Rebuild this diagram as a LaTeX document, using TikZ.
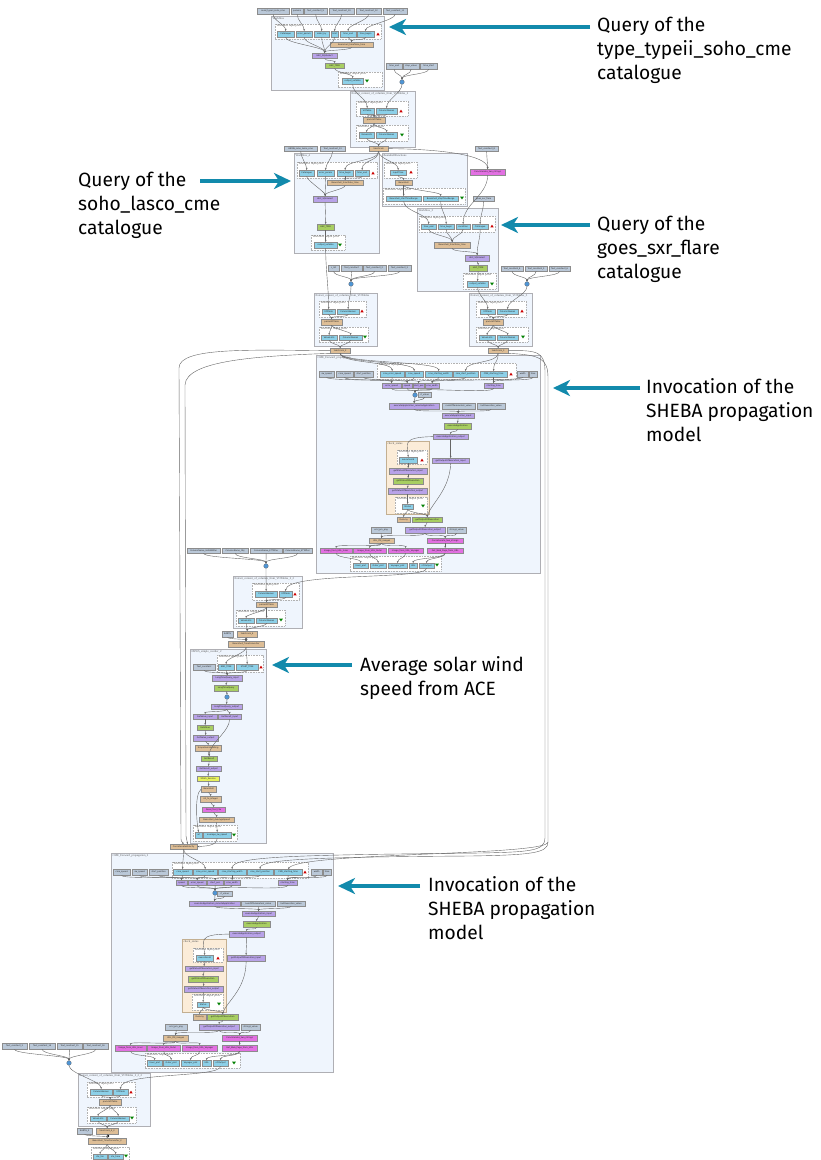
\documentclass[tikz,border=0pt]{standalone}
\usepackage{fontspec}
\usetikzlibrary{arrows.meta}
\newfontfamily\nf{DejaVu Sans}
\newfontfamily\lf{Liberation Serif}
\newfontfamily\af{Fira Sans}
\definecolor{wfblue}{RGB}{239,245,253}
\definecolor{wfline}{RGB}{175,175,180}
\definecolor{cream}{RGB}{251,236,216}
\definecolor{creamline}{RGB}{195,175,145}
\definecolor{portblue}{RGB}{140,208,232}
\definecolor{constgray}{RGB}{186,200,216}
\definecolor{tanc}{RGB}{222,190,150}
\definecolor{purp}{RGB}{184,162,232}
\definecolor{grn}{RGB}{168,206,98}
\definecolor{mag}{RGB}{226,112,226}
\definecolor{yel}{RGB}{232,242,92}
\definecolor{dotblue}{RGB}{78,150,215}
\definecolor{teal1}{RGB}{18,138,172}
\tikzset{
  wf/.style={draw=wfline, fill=wfblue, line width=0.9pt},
  cs/.style={draw=creamline, fill=cream, line width=0.9pt},
  pa/.style={draw=black!30, dash pattern=on 0.8pt off 0.8pt, fill=white, line width=0.35pt},
  nbase/.style={draw=black!45, line width=0.3pt, inner sep=0pt, font=\nf\fontsize{2.1}{2.3}\selectfont, text=black!85},
  inp/.style={nbase, fill=portblue},
  cst/.style={nbase, fill=constgray},
  bsh/.style={nbase, fill=tanc},
  xp/.style={nbase, fill=purp},
  op/.style={nbase, fill=grn},
  mg/.style={nbase, fill=mag},
  yl/.style={nbase, fill=yel},
  mdot/.style={circle, fill=dotblue, draw=black!60, line width=0.3pt, minimum size=4.6pt, inner sep=0pt},
  bdot/.style={circle, fill=black, minimum size=2.6pt, inner sep=0pt},
  edg/.style={draw=black!60, line width=0.4pt, -{Stealth[length=2pt,width=1.7pt]}},
  lbl/.style={font=\lf\fontsize{2.9}{3.1}\selectfont, text=black!65, anchor=north west, inner sep=0.4pt},
  ann/.style={font=\af\fontsize{19.2}{24}\selectfont, text=black, anchor=base west, inner sep=0pt},
  annarr/.style={draw=teal1, line width=3.2pt, -{Stealth[length=17pt,width=16pt,inset=5pt]}},
}
\newcommand\nd[7]{\node[#2, anchor=north west, minimum width={(#5-#3)*1pt}, minimum height={(#6-#4)*1pt}] (#1) at (#3,#4) {#7};}
\newcommand\bx[6]{\node[#2, inner sep=0pt, anchor=north west, minimum width={(#5-#3)*1pt}, minimum height={(#6-#4)*1pt}] (#1) at (#3,#4) {};}
\newcommand\lab[3]{\node[lbl] at (#1,#2) {#3};}
\newcommand\pa[5]{\draw[pa] (#1,#2) rectangle (#3,#4); \node[lbl] at (#1+1,#2+0.3) {#5};}
\newcommand\tup[2]{\fill[red!80!black] (#1-1.7,#2+1.4) -- (#1+1.7,#2+1.4) -- (#1,#2-1.4) -- cycle;}
\newcommand\tdn[2]{\fill[green!50!black] (#1-1.9,#2-1.3) -- (#1+1.9,#2-1.3) -- (#1,#2+1.4) -- cycle;}
\newcommand\ed[3][6]{\draw[edg] (#2.south) .. controls +(0,#1) and +(0,-#1) .. (#3.north);}
\newcommand\wip{Workflow input ports}
\newcommand\wop{Workflow output ports}
\begin{document}
\begin{tikzpicture}[x=1pt,y=-1pt]
\useasboundingbox (0,0) rectangle (820,1160);
\fill[white] (0,0) rectangle (820,1160);
% ================= containers
\bx{W1}{wf}{271}{16}{384}{90}
\bx{E1}{wf}{350}{91}{415}{147}
\bx{W4}{wf}{294}{153}{379}{253}
\bx{BF}{wf}{382}{153}{467}{206}
\bx{W3}{wf}{417}{208}{498}{291}
\bx{E2}{wf}{314}{293}{377}{346}
\bx{E3}{wf}{469}{293}{532}{346}
\bx{C1}{wf}{316}{355}{540}{573}
\bx{K1}{cs}{386}{441}{429}{514}
\bx{E4}{wf}{233}{576}{302}{628}
\bx{H1}{wf}{190}{649}{266}{843}
\bx{C2}{wf}{111}{853}{333}{1072}
\bx{K2}{cs}{182}{939}{226}{1012}
\bx{E5}{wf}{78}{1073}{150}{1126}
\lab{272}{16.5}{Workflow}
\lab{351}{91.5}{Extract\_content\_of\_columns\_from\_VOTables\_2}
\lab{295}{153.5}{Workflow\_4}
\lab{383}{153.5}{BeanshellFunctions}
\lab{418}{208.5}{Workflow\_3}
\lab{315}{293.5}{Extract\_content\_of\_columns\_from\_VOTables}
\lab{470}{293.5}{Extract\_content\_of\_columns\_from\_VOTables\_3}
\lab{317}{355.5}{CME\_Forward\_propagation}
\lab{387}{441.5}{check\_status}
\lab{234}{576.5}{Extract\_content\_of\_columns\_from\_VOTables\_2\_2}
\lab{191}{649.5}{HSWS\_simple\_reorder\_2}
\lab{112}{853.5}{CME\_Forward\_propagation\_2}
\lab{183}{939.5}{check\_status}
\lab{79}{1073.5}{Extract\_content\_of\_columns\_from\_VOTables\_2\_2\_2}
% port areas
\pa{275}{24}{381}{39}{\wip} \pa{338}{72}{382}{87}{\wop}
\pa{356}{101}{408}{116}{\wip} \pa{356}{125}{408}{141}{\wop}
\pa{297}{162}{377}{178}{\wip} \pa{311}{235}{345}{250}{\wop}
\pa{384}{162}{417}{178}{\wip} \pa{383}{188}{465}{204}{\wop}
\pa{419}{216}{495}{232}{\wip} \pa{463}{273}{496}{289}{\wop}
\pa{319}{301}{366}{317}{\wip} \pa{319}{327}{368}{342}{\wop}
\pa{476}{301}{526}{317}{\wip} \pa{476}{327}{528}{342}{\wop}
\pa{377}{363}{516}{379}{\wip}
\pa{397}{450}{427}{464}{\wip} \pa{395}{497}{427}{513}{\wop}
\pa{350}{556}{441}{571}{\wop}
\pa{252}{583}{299}{600}{\wip} \pa{236}{610}{285}{626}{\wop}
\pa{217}{655}{263}{672}{\wip} \pa{193}{825}{237}{841}{\wop}
\pa{172}{862}{308}{878}{\wip}
\pa{193}{948}{223}{962}{\wip} \pa{192}{994}{223}{1010}{\wop}
\pa{145}{1053}{240}{1068}{\wop}
\pa{87}{1082}{135}{1097}{\wip} \pa{87}{1107}{136}{1123}{\wop}
\pa{91}{1147}{129}{1160}{\wop}
% ================= region 1
\nd{c1}{cst}{257}{8}{289}{14}{send\_typeii\_soho\_cme}
\nd{c2}{cst}{291}{8}{303}{14}{params}
\nd{c3}{cst}{304}{8}{327}{14}{Text\_constant\_9}
\nd{c4}{cst}{329}{8}{354}{14}{Text\_constant\_10}
\nd{c5}{cst}{356}{8}{381}{14}{Text\_constant\_12}
\nd{c6}{cst}{383}{8}{407}{14}{Text\_constant\_11}
\nd{w1a}{inp}{277}{31}{294}{37}{Cataloque}
\nd{w1b}{inp}{296}{31}{312}{37}{error\_param}
\nd{w1c}{inp}{314}{31}{329}{37}{order\_by}
\nd{w1d}{inp}{331}{31}{338}{37}{limit}
\nd{w1e}{inp}{340}{31}{356}{37}{time\_end}
\nd{w1f}{inp}{357}{31}{374}{37}{time\_begin}
\tup{378}{34}
\nd{w1t}{bsh}{330}{42}{373}{47}{Beanshell\_timeToIso\_time}
\nd{w1s}{xp}{312}{53}{337}{58}{HEC\_SQLSelect}
\nd{w1h}{op}{325}{63}{344}{68}{HEC\_TIME}
\nd{w1o}{inp}{342}{78}{363}{84}{output\_votable}
\tdn{367}{81}
\nd{d1}{cst}{386}{63}{402}{69}{time\_end}
\nd{d2}{cst}{403}{63}{419}{69}{step\_value}
\nd{d3}{cst}{420}{63}{437}{69}{time\_start}
\node[mdot] (m1) at (402,82) {};
\nd{e1a}{inp}{360}{108}{374}{114}{VOTable}
\nd{e1b}{inp}{376}{108}{397}{114}{ColumnNames}
\tup{401}{111}
\nd{e1p}{bsh}{363}{117}{385}{123}{parseVOTable}
\nd{e1c}{inp}{359}{132}{374}{138}{ValueLists}
\nd{e1d}{inp}{376}{132}{397}{138}{ColumnNames}
\tdn{402}{135}
\nd{t1}{bsh}{369}{146}{388}{151}{tabstrcols}
% ================= region 2
\nd{f1}{cst}{284}{146}{317}{151}{HNSW\_soho\_lasco\_cme}
\nd{f2}{cst}{320}{146}{345}{151}{Text\_constant\_13}
\nd{w4a}{inp}{299}{170}{314}{176}{Catalogue}
\nd{w4b}{inp}{317}{170}{334}{176}{error\_param}
\nd{w4c}{inp}{337}{170}{353}{176}{time\_begin}
\nd{w4d}{inp}{355}{170}{369}{176}{time\_end}
\tup{373}{173}
\nd{w4t}{bsh}{327}{180}{363}{185}{Beanshell\_timeToIso\_time}
\nd{w4s}{xp}{313}{196}{337}{202}{HEC\_SQLSelect}
\nd{w4h}{op}{317}{224}{334}{230}{HEC\_TIME}
\nd{w4o}{inp}{314}{242}{337}{248}{output\_votable}
\tdn{340}{245}
\nd{bfa}{inp}{390}{170}{406}{175}{inputTime}
\tup{411}{172}
\nd{bfb}{bsh}{395}{180}{412}{185}{Beanshell}
\nd{bfc}{inp}{386}{196}{421}{201}{Beanshell\_startTimeRange}
\nd{bfd}{inp}{423}{196}{458}{201}{Beanshell\_stopTimeRange}
\tdn{462}{198}
\nd{g1}{cst}{475}{146}{498}{151}{Text\_constant\_8}
\nd{g2}{mg}{470}{169}{505}{175}{Concatenate\_two\_strings}
\nd{g3}{cst}{473}{196}{494}{201}{goes\_sxr\_flare}
\nd{w3a}{inp}{421}{224}{436}{229}{time\_end}
\nd{w3b}{inp}{438}{224}{454}{229}{time\_begin}
\nd{w3c}{inp}{456}{224}{470}{229}{condition}
\nd{w3d}{inp}{472}{224}{488}{229}{Catalogue}
\tup{492}{226}
\nd{w3t}{bsh}{434}{242}{470}{248}{Beanshell\_timeToIso\_time}
\nd{w3s}{xp}{465}{255}{489}{261}{HEC\_SQLSelect}
\nd{w3h}{op}{469}{265}{487}{271}{HEC\_TIME}
\nd{w3o}{inp}{467}{281}{488}{287}{output\_votable}
\tdn{492}{284}
\nd{h1}{cst}{328}{265}{339}{271}{c\_list}
\nd{h2}{cst}{341}{265}{362}{271}{Text\_constant}
\nd{h3}{cst}{363}{265}{386}{271}{Text\_constant\_2}
\nd{h4}{cst}{388}{265}{411}{271}{Text\_constant\_3}
\node[mdot] (m2) at (351,284) {};
\nd{k1}{cst}{501}{266}{523}{271}{Text\_constant\_4}
\nd{k2}{cst}{525}{266}{547}{271}{Text\_constant\_5}
\nd{k3}{cst}{549}{266}{570}{271}{Text\_constant\_6}
\node[mdot] (m3) at (527,284) {};
\nd{e2a}{inp}{322}{309}{335}{314}{VOTable}
\nd{e2b}{inp}{337}{309}{359}{314}{ColumnNames}
\tup{362}{311}
\nd{e2p}{bsh}{321}{319}{342}{325}{parseVOTable}
\nd{e2c}{inp}{321}{335}{337}{340}{ValueLists}
\nd{e2d}{inp}{339}{335}{362}{340}{ColumnNames}
\tdn{365}{337}
\nd{t2}{bsh}{330}{348}{350}{353}{tabstrcols\_2}
\nd{e3a}{inp}{480}{309}{495}{314}{VOTable}
\nd{e3b}{inp}{497}{309}{518}{314}{ColumnNames}
\tup{522}{311}
\nd{e3p}{bsh}{483}{319}{503}{325}{parseVOTable}
\nd{e3c}{inp}{479}{335}{495}{340}{ValueLists}
\nd{e3d}{inp}{497}{335}{518}{340}{ColumnNames}
\tdn{523}{337}
\nd{t3}{bsh}{488}{348}{508}{353}{tabstrcols\_3}
% ================= CME 1
\nd{p1}{inp}{380}{371}{404}{377}{cme\_error\_speed}
\nd{p2}{inp}{405}{371}{423}{377}{cme\_speed}
\nd{p3}{inp}{425}{371}{452}{377}{cme\_starting\_width}
\nd{p4}{inp}{453}{371}{478}{377}{cme\_start\_position}
\nd{p5}{inp}{480}{371}{507}{377}{CME\_starting\_time}
\tup{511}{374}
\nd{q1}{cst}{319}{371}{334}{377}{sw\_speed}
\nd{q2}{cst}{336}{371}{353}{377}{cme\_speed}
\nd{q3}{cst}{354}{371}{373}{377}{start\_position}
\nd{q4}{cst}{517}{371}{528}{377}{width}
\nd{q5}{cst}{529}{371}{537}{377}{time}
\nd{r1}{xp}{382}{383}{401}{388}{error\_speed}
\nd{r2}{xp}{402}{383}{412}{388}{speed}
\nd{r3}{xp}{413}{383}{424}{388}{start\_pos}
\nd{r4}{xp}{425}{383}{439}{388}{cme\_width}
\nd{r5}{xp}{484}{383}{503}{388}{starting\_time}
\node[mdot] (m4) at (415,395) {};
\nd{s1}{cst}{418}{392}{431}{397}{rt\_value}
\nd{s2}{xp}{389}{403}{439}{409}{executeApplication\_remoteApplication}
\nd{s3}{cst}{442}{403}{475}{409}{numOfParameters\_value}
\nd{s4}{cst}{477}{403}{505}{409}{lastExecution\_value}
\nd{s5}{xp}{442}{413}{474}{418}{executeApplication\_input}
\nd{s6}{op}{444}{423}{471}{429}{executeApplication}
\nd{s7}{xp}{433}{434}{468}{439}{executeApplication\_output}
\nd{u1}{inp}{399}{457}{417}{463}{executionId}
\tup{422}{460}
\nd{u2}{xp}{389}{468}{427}{474}{getStatusOfExecution\_input}
\nd{u3}{op}{393}{478}{423}{484}{getStatusOfExecution}
\nd{u4}{xp}{388}{488}{427}{494}{getStatusOfExecution\_output}
\nd{u5}{inp}{402}{504}{413}{509}{Status}
\tdn{423}{506}
\nd{s8}{xp}{432}{458}{469}{463}{getOutputOfExecution\_input}
\nd{s9}{bsh}{397}{517}{410}{522}{Dummy}
\nd{s10}{op}{412}{517}{442}{522}{getOutputOfExecution}
\nd{s11}{cst}{371}{527}{391}{533}{xml\_pm\_png}
\nd{s12}{xp}{405}{527}{445}{533}{getOutputOfExecution\_output}
\nd{s13}{cst}{447}{527}{466}{533}{string1\_value}
\nd{s14}{bsh}{369}{538}{394}{543}{URL\_PM\_images}
\nd{s15}{mg}{427}{538}{463}{543}{Concatenate\_two\_strings}
\nd{s16}{mg}{320}{548}{352}{553}{Image\_from\_URL\_Inner}
\nd{s17}{mg}{353}{548}{386}{553}{Image\_from\_URL\_Outer}
\nd{s18}{mg}{388}{548}{423}{553}{Image\_from\_URL\_Voyager}
\nd{s19}{mg}{427}{548}{463}{553}{Get\_Web\_Page\_from\_URL}
\nd{o1}{inp}{353}{563}{368}{568}{Inner\_plot}
\nd{o2}{inp}{370}{563}{386}{568}{Outer\_plot}
\nd{o3}{inp}{388}{563}{407}{568}{Voyager\_plot}
\nd{o4}{inp}{409}{563}{417}{568}{URL}
\nd{o5}{inp}{419}{563}{434}{568}{sCOutput}
\tdn{437}{565}
% ================= region 3
\nd{v1}{cst}{187}{548}{220}{553}{ColumnName\_HHSWAfter}
\nd{v2}{cst}{222}{548}{248}{553}{ColumnName\_Obj}
\nd{v3}{cst}{250}{548}{282}{553}{ColumnName\_ETTAfter}
\nd{v4}{cst}{283}{548}{312}{553}{ColumnName\_STTAfter}
\node[mdot] (m5) at (266,566) {};
\nd{e4a}{inp}{255}{591}{277}{597}{ColumnNames}
\nd{e4b}{inp}{279}{591}{292}{597}{VOTable}
\tup{295}{594}
\nd{e4p}{bsh}{256}{602}{277}{607}{parseVOTable}
\nd{e4c}{inp}{238}{618}{254}{623}{ValueLists}
\nd{e4d}{inp}{256}{618}{277}{623}{ColumnNames}
\tdn{281}{620}
\nd{x1}{cst}{222}{631}{233}{637}{EARTH}
\nd{x2}{bsh}{237}{631}{257}{637}{tabstrcols\_4}
\node[bdot] (x3) at (246,639.5) {};
\nd{x4}{bsh}{228}{641}{264}{647}{Beanshell\_TimeConverter}
\nd{a0}{cst}{193}{664}{215}{670}{Text\_constant}
\nd{a1}{inp}{218}{664}{234}{670}{END\_TIME}
\nd{a2}{inp}{236}{664}{258}{670}{START\_TIME}
\tup{261}{667}
\nd{a3}{xp}{212}{675}{242}{681}{LongTimeQuery\_input}
\nd{a4}{op}{214}{685}{238}{691}{LongTimeQuery}
\node[mdot] (m6) at (227,697) {};
\nd{a5}{xp}{211}{704}{242}{709}{LongTimeQuery\_output}
\nd{a6}{xp}{193}{714}{217}{719}{GetValue\_input}
\nd{a7}{xp}{218}{714}{241}{719}{GetResult\_input}
\nd{a8}{op}{197}{725}{213}{730}{GetValue}
\nd{a9}{xp}{193}{735}{218}{741}{GetValue\_output}
\nd{a10}{bsh}{195}{745}{221}{751}{ScopeSumHandling}
\nd{a11}{op}{201}{756}{217}{761}{GetResult}
\nd{a12}{xp}{196}{766}{221}{771}{GetResult\_output}
\nd{a13}{yl}{197}{776}{219}{781}{XPath\_Service}
\nd{a14}{bsh}{201}{786}{216}{792}{Beanshell}
\nd{a15}{bsh}{200}{796}{221}{802}{int\_to\_integer}
\nd{a16}{mg}{202}{807}{225}{812}{Read\_Text\_File}
\nd{a17}{bsh}{199}{817}{234}{822}{Beanshell\_AverageSpeed}
\nd{a18}{inp}{195}{832}{202}{838}{url}
\nd{a19}{inp}{203}{832}{231}{838}{average\_sw\_speed}
\tdn{234}{835}
\nd{z1}{bsh}{170}{844}{197}{849}{ConcatenateVelocity}
% ================= CME 2
\nd{P1}{inp}{173}{869}{192}{875}{cme\_speed}
\nd{P2}{inp}{193}{869}{217}{875}{cme\_error\_speed}
\nd{P3}{inp}{218}{869}{246}{875}{cme\_starting\_width}
\nd{P4}{inp}{247}{869}{273}{875}{cme\_start\_position}
\nd{P5}{inp}{274}{869}{302}{875}{CME\_starting\_time}
\tup{305}{872}
\nd{Q1}{cst}{113}{869}{130}{875}{cme\_speed}
\nd{Q2}{cst}{132}{869}{147}{875}{sw\_speed}
\nd{Q3}{cst}{149}{869}{168}{875}{start\_position}
\nd{Q4}{cst}{311}{869}{322}{875}{width}
\nd{Q5}{cst}{323}{869}{331}{875}{time}
\nd{R1}{xp}{176}{880}{187}{885}{speed}
\nd{R2}{xp}{188}{880}{206}{885}{error\_speed}
\nd{R3}{xp}{207}{880}{223}{885}{start\_pos}
\nd{R4}{xp}{224}{880}{240}{885}{cme\_width}
\nd{R5}{xp}{278}{880}{297}{885}{starting\_time}
\node[mdot] (M4) at (215,893) {};
\nd{S1}{cst}{217}{891}{232}{896}{rt\_value}
\nd{S2}{xp}{189}{901}{240}{906}{executeApplication\_remoteApplication}
\nd{S3}{cst}{241}{901}{275}{906}{numOfParameters\_value}
\nd{S4}{cst}{277}{901}{305}{906}{lastExecution\_value}
\nd{S5}{xp}{242}{911}{275}{916}{executeApplication\_input}
\nd{S6}{op}{243}{921}{270}{927}{executeApplication}
\nd{S7}{xp}{229}{931}{264}{937}{executeApplication\_output}
\nd{U1}{inp}{196}{955}{213}{961}{executionId}
\tup{218}{958}
\nd{U2}{xp}{185}{966}{223}{971}{getStatusOfExecution\_input}
\nd{U3}{op}{188}{976}{218}{982}{getStatusOfExecution}
\nd{U4}{xp}{184}{986}{223}{992}{getStatusOfExecution\_output}
\nd{U5}{inp}{197}{1002}{209}{1007}{Status}
\tdn{219}{1004}
\nd{S8}{xp}{227}{955}{265}{961}{getOutputOfExecution\_input}
\nd{S9}{bsh}{193}{1014}{206}{1020}{Dummy}
\nd{S10}{op}{207}{1014}{238}{1020}{getOutputOfExecution}
\nd{S11}{cst}{165}{1024}{187}{1030}{xml\_pm\_png}
\nd{S12}{xp}{199}{1024}{239}{1030}{getOutputOfExecution\_output}
\nd{S13}{cst}{241}{1024}{260}{1030}{string1\_value}
\nd{S14}{bsh}{163}{1035}{188}{1041}{URL\_PM\_images}
\nd{S15}{mg}{222}{1035}{257}{1041}{Concatenate\_two\_strings}
\nd{S16}{mg}{115}{1045}{146}{1051}{Image\_from\_URL\_Inner}
\nd{S17}{mg}{147}{1045}{180}{1051}{Image\_from\_URL\_Outer}
\nd{S18}{mg}{182}{1045}{217}{1051}{Image\_from\_URL\_Voyager}
\nd{S19}{mg}{222}{1045}{257}{1051}{Get\_Web\_Page\_from\_URL}
\nd{O1}{inp}{147}{1060}{162}{1066}{Inner\_plot}
\nd{O2}{inp}{163}{1060}{179}{1066}{Outer\_plot}
\nd{O3}{inp}{181}{1060}{200}{1066}{Voyager\_plot}
\nd{O4}{inp}{202}{1060}{211}{1066}{URL}
\nd{O5}{inp}{213}{1060}{228}{1066}{sCOutput}
\tdn{234}{1063}
% ================= bottom
\nd{B1}{cst}{2}{1043}{27}{1049}{Text\_constant\_3}
\nd{B2}{cst}{29}{1043}{55}{1049}{Text\_constant\_14}
\nd{B3}{cst}{57}{1043}{82}{1049}{Text\_constant\_15}
\nd{B4}{cst}{83}{1043}{108}{1049}{Text\_constant\_16}
\node[mdot] (M5) at (69,1063) {};
\nd{e5a}{inp}{90}{1089}{112}{1095}{ColumnNames}
\nd{e5b}{inp}{113}{1089}{128}{1095}{VOTable}
\tup{131}{1092}
\nd{e5p}{bsh}{99}{1099}{121}{1105}{parseVOTable}
\nd{e5c}{inp}{90}{1116}{106}{1121}{ValueLists}
\nd{e5d}{inp}{107}{1116}{129}{1121}{ColumnNames}
\tdn{132}{1118}
\nd{y1}{cst}{77}{1128}{92}{1134}{EARTH\_2}
\nd{y2}{bsh}{96}{1128}{118}{1134}{tabstrcols\_4\_2}
\node[bdot] (y3) at (108,1136) {};
\nd{y4}{bsh}{88}{1138}{126}{1144}{Beanshell\_TimeConverter\_2}
\nd{y5}{inp}{93}{1154}{107}{1159}{sta\_tim}
\nd{y6}{inp}{108}{1154}{123}{1159}{sta\_time}
\tdn{126}{1156}
% ================= edges region 1
\ed{c1}{w1a} \ed{c2}{w1b} \ed{c3}{w1c} \ed{c4}{w1d} \ed{c5}{w1e} \ed{c6}{w1f}
\ed{w1a}{w1s} \ed{w1b}{w1s} \ed{w1c}{w1s} \ed{w1d}{w1s} \ed[3]{w1e}{w1t} \ed[3]{w1f}{w1t}
\ed[3]{w1t}{w1s} \ed[3]{w1s}{w1h} \ed[4]{w1h}{w1o}
\ed[5]{d1}{m1} \ed[5]{d2}{m1} \ed[5]{d3}{m1}
\ed[10]{w1o}{e1a} \ed[8]{m1}{e1b}
\ed[3]{e1a}{e1p} \ed[3]{e1b}{e1p} \ed[4]{e1p}{e1c} \ed[4]{e1p}{e1d} \ed[3]{e1c}{t1} \ed[3]{e1d}{t1}
% region 2
\ed{f1}{w4a} \ed{f2}{w4b} \ed[10]{t1}{w4c} \ed[10]{t1}{w4d}
\ed[4]{w4a}{w4s} \ed[4]{w4b}{w4s} \ed[3]{w4c}{w4t} \ed[3]{w4d}{w4t} \ed[4]{w4t}{w4s}
\ed[6]{w4s}{w4h} \ed[4]{w4h}{w4o}
\ed[8]{t1}{bfa} \ed[3]{bfa}{bfb} \ed[4]{bfb}{bfc} \ed[4]{bfb}{bfd}
\draw[edg] (t1.east) .. controls (440,149) and (487,155) .. (g2.north);
\ed[5]{g1}{g2}
\ed[10]{bfc}{w3a} \ed[10]{bfd}{w3b} \ed[20]{g2}{w3c} \ed[8]{g3}{w3d}
\ed[5]{w3a}{w3t} \ed[5]{w3b}{w3t} \ed[5]{w3c}{w3t} \ed[10]{w3d}{w3s} \ed[4]{w3t}{w3s}
\ed[3]{w3s}{w3h} \ed[4]{w3h}{w3o}
\ed[5]{h1}{m2} \ed[5]{h2}{m2} \ed[5]{h3}{m2} \ed[5]{h4}{m2}
\ed[5]{k1}{m3} \ed[5]{k2}{m3} \ed[5]{k3}{m3}
\ed[20]{w4o}{e2a} \ed[8]{m2}{e2b}
\ed[3]{e2a}{e2p} \ed[3]{e2b}{e2p} \ed[3]{e2p}{e2c} \ed[3]{e2p}{e2d} \ed[3]{e2c}{t2} \ed[3]{e2d}{t2}
\ed[8]{w3o}{e3a} \ed[8]{m3}{e3b}
\ed[3]{e3a}{e3p} \ed[3]{e3b}{e3p} \ed[3]{e3p}{e3c} \ed[3]{e3p}{e3d} \ed[3]{e3c}{t3} \ed[3]{e3d}{t3}
% CME 1
\ed[10]{t2}{p1} \ed[10]{t2}{p2} \ed[10]{t2}{p3} \ed[10]{t3}{p4} \ed[10]{t3}{p5}
\ed[4]{p1}{r1} \ed[4]{p2}{r2} \ed[4]{p3}{r4} \ed[4]{p4}{r3} \ed[4]{p5}{r5}
\ed[4]{q1}{r2} \ed[4]{q2}{r1} \ed[4]{q3}{r3} \ed[4]{q4}{r4} \ed[4]{q5}{r5}
\ed[4]{r1}{m4} \ed[4]{r2}{m4} \ed[4]{r3}{m4} \ed[4]{r4}{m4} \ed[6]{r5}{m4}
\ed[3]{m4}{s2} \ed[3]{s1}{s2}
\ed[3]{s2}{s5} \ed[3]{s3}{s5} \ed[3]{s4}{s5} \ed[3]{s5}{s6} \ed[3]{s6}{s7}
\draw[edg] (s7.west) .. controls (400,437) and (408,445) .. (u1.north);
\ed[10]{s7}{s8}
\ed[3]{u1}{u2} \ed[3]{u2}{u3} \ed[3]{u3}{u4} \ed[4]{u4}{u5}
\ed[4]{u5}{s9} \ed[3]{u5}{s10}
\draw[edg] (s8.south) .. controls (450,490) and (430,505) .. (s10.north);
\ed[3]{s10}{s12}
\ed[4]{s12}{s14} \ed[4]{s11}{s14} \ed[4]{s12}{s15} \ed[4]{s13}{s15}
\ed[4]{s14}{s16} \ed[4]{s14}{s17} \ed[4]{s14}{s18} \ed[3]{s15}{s19}
\ed[5]{s16}{o1} \ed[5]{s17}{o2} \ed[5]{s18}{o3} \ed[5]{s19}{o4} \ed[5]{s19}{o5}
% region 3
\ed[5]{v1}{m5} \ed[5]{v2}{m5} \ed[5]{v3}{m5} \ed[5]{v4}{m5}
\ed[6]{m5}{e4a}
\draw[edg] (o5.south) .. controls (427,580) and (286,572) .. (e4b.north);
\ed[3]{e4a}{e4p} \ed[3]{e4b}{e4p} \ed[3]{e4p}{e4c} \ed[3]{e4p}{e4d} \ed[3]{e4c}{x2} \ed[3]{e4d}{x2}
\ed[2]{x1}{x4} \ed[2]{x2}{x4}
\ed[6]{x4}{a1} \ed[6]{x4}{a2}
\ed[3]{a0}{a3} \ed[3]{a1}{a3} \ed[3]{a2}{a3} \ed[3]{a3}{a4} \ed[3]{a4}{m6} \ed[3]{m6}{a5}
\ed[3]{a5}{a6} \ed[3]{a5}{a7} \ed[3]{a6}{a8} \ed[3]{a8}{a9} \ed[3]{a9}{a10} \ed[3]{a10}{a11}
\ed[12]{a7}{a11}
\ed[3]{a11}{a12} \ed[3]{a12}{a13} \ed[3]{a13}{a14} \ed[3]{a14}{a15} \ed[3]{a15}{a16} \ed[3]{a16}{a17}
\draw[edg] (a14.west) .. controls (194,795) and (197,825) .. (a18.north);
\ed[4]{a17}{a19}
\draw[edg] (a19.south) .. controls (217,846) and (205,846) .. (z1.east);
% loops
\draw[edg] (t2.west) .. controls (250,350) and (179,347) .. (179,368) -- (181,836) .. controls (181,841) .. (z1.north);
\draw[edg] (t2.south west) .. controls (260,356) and (186,360) .. (185,385) -- (186,836) .. controls (187,841) .. ([xshift=4pt]z1.north);
\coordinate (rl) at (548,842);
\draw[edg] (t3.east) .. controls (538,350) and (545,352) .. (545,372) -- (545,838) .. controls (545,851) and (530,852) .. (480,853) .. controls (300,855) and (232,856) .. (P3.north);
\draw[edg] (t3.south east) .. controls (540,355) and (548,358) .. (548,378) -- (rl) .. controls (548,853) and (532,855) .. (470,856) .. controls (320,857) and (260,859) .. (P4.north);
\draw[edg] (rl) .. controls (548,856) and (300,852) .. (P5.north);
\ed[8]{z1}{P1} \ed[8]{z1}{P2}
% CME 2
\ed[4]{P1}{R1} \ed[4]{P2}{R2} \ed[4]{P3}{R4} \ed[4]{P4}{R3} \ed[4]{P5}{R5}
\ed[4]{Q1}{R1} \ed[4]{Q2}{R2} \ed[4]{Q3}{R3} \ed[4]{Q4}{R5} \ed[4]{Q5}{R5}
\ed[4]{R1}{M4} \ed[4]{R2}{M4} \ed[4]{R3}{M4} \ed[4]{R4}{M4} \ed[6]{R5}{M4}
\ed[3]{M4}{S2} \ed[3]{S1}{S2}
\ed[3]{S2}{S5} \ed[3]{S3}{S5} \ed[3]{S4}{S5} \ed[3]{S5}{S6} \ed[3]{S6}{S7}
\draw[edg] (S7.west) .. controls (196,934) and (204,942) .. (U1.north);
\ed[10]{S7}{S8}
\ed[3]{U1}{U2} \ed[3]{U2}{U3} \ed[3]{U3}{U4} \ed[4]{U4}{U5}
\ed[4]{U5}{S9} \ed[3]{U5}{S10}
\draw[edg] (S8.south) .. controls (246,990) and (226,1002) .. (S10.north);
\ed[3]{S10}{S12}
\ed[4]{S12}{S14} \ed[4]{S11}{S14} \ed[4]{S12}{S15} \ed[4]{S13}{S15}
\ed[4]{S14}{S16} \ed[4]{S14}{S17} \ed[4]{S14}{S18} \ed[3]{S15}{S19}
\ed[5]{S16}{O1} \ed[5]{S17}{O2} \ed[5]{S18}{O3} \ed[5]{S19}{O4} \ed[5]{S19}{O5}
% bottom
\ed[5]{B1}{M5} \ed[5]{B2}{M5} \ed[5]{B3}{M5} \ed[5]{B4}{M5}
\ed[8]{M5}{e5a}
\draw[edg] (O5.south) .. controls (220,1078) and (120,1072) .. (e5b.north);
\ed[3]{e5a}{e5p} \ed[3]{e5b}{e5p} \ed[3]{e5p}{e5c} \ed[3]{e5p}{e5d} \ed[3]{e5c}{y2} \ed[3]{e5d}{y2}
\ed[2]{y1}{y4} \ed[2]{y2}{y4} \ed[3]{y4}{y5} \ed[3]{y4}{y6}
% ================= annotations
\node[ann] (n1a) at (597,31) {Query of the};
\node[ann] (n1b) at (597,55) {type\_typeii\_soho\_cme};
\node[ann] (n1c) at (597,79) {catalogue};
\coordinate (a1s) at (590,27); \coordinate (a1e) at (389,27);
\draw[annarr] (a1s) -- (a1e);
\node[ann] (n2a) at (78,186) {Query of the};
\node[ann] (n2b) at (78,210) {soho\_lasco\_cme};
\node[ann] (n2c) at (78,234) {catalogue};
\coordinate (a2s) at (200,181); \coordinate (a2e) at (291,181);
\draw[annarr] (a2s) -- (a2e);
\node[ann] (n3a) at (597,230) {Query of the};
\node[ann] (n3b) at (597,254) {goes\_sxr\_flare};
\node[ann] (n3c) at (597,278) {catalogue};
\coordinate (a3s) at (590,225); \coordinate (a3e) at (501,225);
\draw[annarr] (a3s) -- (a3e);
\node[ann] (n4a) at (646,393) {Invocation of the};
\node[ann] (n4b) at (646,417) {SHEBA propagation};
\node[ann] (n4c) at (646,441) {model};
\coordinate (a4s) at (640,388); \coordinate (a4e) at (553,388);
\draw[annarr] (a4s) -- (a4e);
\node[ann] (n5a) at (360,671) {Average solar wind};
\node[ann] (n5b) at (360,695) {speed from ACE};
\coordinate (a5s) at (352,665); \coordinate (a5e) at (272,665);
\draw[annarr] (a5s) -- (a5e);
\node[ann] (n6a) at (428,891) {Invocation of the};
\node[ann] (n6b) at (428,915) {SHEBA propagation};
\node[ann] (n6c) at (428,939) {model};
\coordinate (a6s) at (420,886); \coordinate (a6e) at (338,886);
\draw[annarr] (a6s) -- (a6e);
\end{tikzpicture}
\end{document}
